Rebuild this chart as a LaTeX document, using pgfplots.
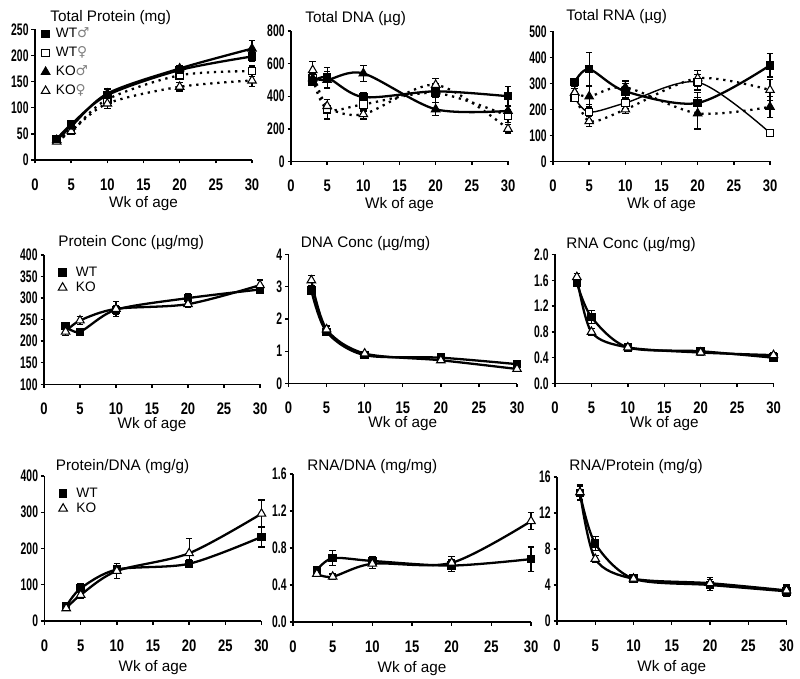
\documentclass[border=0pt]{standalone}
\usepackage{pgfplots}
\pgfplotsset{compat=1.18}
\usepackage{fontspec}
\setmainfont{Liberation Sans}
\newfontfamily\xtf{Liberation Sans}[FakeStretch=0.78]
\newfontfamily\ytf{Liberation Sans}[FakeStretch=0.62]
\newfontfamily\symf{DejaVu Sans}
\pgfplotsset{
  /pgfplots/xlabshift/.initial=-0.95cm,
  /pgfplots/titshift/.initial=0.15cm,
  /pgfplots/titx/.initial=0.26cm,
  panel/.style={
    scale only axis, anchor=south west, clip=false,
    xmin=0, xmax=30, xtick={0,5,...,30},
    axis lines*=left, axis line style={line width=0.8pt, black},
    tick align=outside, major tick length=0.07cm,
    every tick/.style={line width=0.8pt, black},
    /pgf/number format/assume math mode=true,
    xticklabel style={font=\xtf\bfseries\fontsize{9.5}{10}\selectfont, anchor=center, yshift=-0.42cm},
    yticklabel style={font=\ytf\bfseries\fontsize{9.5}{10}\selectfont, anchor=east, inner sep=1.5pt},
    xlabel={Wk of age},
    every axis x label/.style={at={(axis description cs:0.5,0)}, anchor=base,
      yshift=\pgfkeysvalueof{/pgfplots/xlabshift}, font=\fontsize{8.7}{10}\selectfont},
    every axis title shift=0pt,
    every axis title/.style={at={(axis description cs:0,1)}, anchor=base west, inner sep=0pt,
      xshift=\pgfkeysvalueof{/pgfplots/titx},
      yshift=\pgfkeysvalueof{/pgfplots/titshift}, font=\fontsize{8.7}{10}\selectfont},
    legend image code/.code={\draw[mark repeat=1,mark phase=1,#1] plot coordinates {(0cm,0cm)};},
    legend style={draw=none, fill=none, at={(axis description cs:0,1)}, anchor=north west,
      inner sep=0pt, column sep=0.12cm, font=\fontsize{7.8}{8}\selectfont,
      nodes={inner sep=0pt, text height=0.2cm, text depth=0.05cm}},
    legend cell align=left,
  },
  ser/.style={black, line width=1.3pt, smooth, tension=0.5,
    error bars/y dir=both, error bars/y explicit,
    error bars/error bar style={line width=0.7pt, solid},
    error bars/error mark options={rotate=90, mark size=0.065cm, line width=0.7pt, solid}},
  thin/.style={line width=0.8pt},
  dots/.style={dash pattern=on 1.3pt off 2.7pt},
  sqf/.style={mark=square*, mark size=2.1pt, mark options={solid, fill=black, draw=black, line width=0.6pt}},
  sqo/.style={mark=square*, mark size=2.1pt, mark options={solid, fill=white, draw=black, line width=0.6pt}},
  trf/.style={mark=triangle*, mark size=2.8pt, mark options={solid, fill=black, draw=black, line width=0.6pt}},
  tro/.style={mark=triangle*, mark size=2.8pt, mark options={solid, fill=white, draw=black, line width=0.6pt}},
}
\begin{document}
\begin{tikzpicture}
\path[use as bounding box] (0,0) rectangle (16cm,-13.58cm);

% ---------- Row 1 ----------
\begin{axis}[panel, at={(0.70cm,-3.20cm)}, width=4.34cm, height=2.614cm,
  ymin=0, ymax=250, ytick={0,50,...,250}, title={Total Protein (mg)}, titx=0.30cm,
  legend style={xshift=0.12cm, yshift=0.04cm, row sep=0.13cm}]
\addlegendimage{only marks, sqf}\addlegendentry{WT{\symf\color{gray}♂}}
\addlegendimage{only marks, sqo}\addlegendentry{WT{\symf\color{gray}♀}}
\addlegendimage{only marks, trf}\addlegendentry{KO{\symf\color{gray}♂}}
\addlegendimage{only marks, tro}\addlegendentry{KO{\symf\color{gray}♀}}
\addplot[ser, dots, sqo] table[y error=e] {
x y e
3 40 3
5 55 4
10 116 8
20 162 8
30 170 10
};
\addplot[ser, dots, tro] table[y error=e] {
x y e
3 35 3
5 55 4
10 108 10
20 140 8
30 152 12
};
\addplot[ser, sqf] table[y error=e] {
x y e
3 40 3
5 68 4
10 124 6
20 172 5
30 198 10
};
\addplot[ser, trf] table[y error=e] {
x y e
3 38 4
5 64 4
10 127 9
20 175 6
30 213 15
};
\end{axis}

\begin{axis}[panel, at={(5.82cm,-3.23cm)}, width=4.34cm, height=2.61cm,
  ymin=0, ymax=800, ytick={0,200,...,800}, title={Total DNA (µg)}, titshift=0.16cm, titx=0.28cm]
\addplot[ser, dots, sqo] table[y error=e] {
x y e
3 510 30
5 320 60
10 350 40
20 420 60
30 280 40
};
\addplot[ser, dots, tro] table[y error=e] {
x y e
3 560 55
5 340 40
10 290 30
20 470 40
30 200 25
};
\addplot[ser, sqf] table[y error=e] {
x y e
3 490 20
5 515 60
10 395 25
20 430 40
30 400 60
};
\addplot[ser, trf] table[y error=e] {
x y e
3 510 30
5 500 50
10 540 50
20 320 40
30 310 30
};
\end{axis}

\begin{axis}[panel, at={(11.06cm,-3.23cm)}, width=4.34cm, height=2.60cm,
  ymin=0, ymax=500, ytick={0,100,...,500}, title={Total RNA (µg)}, titshift=0.21cm]
\addplot[ser, dots, trf] table[y error=e] {
x y e
3 265 15
5 250 40
10 285 25
20 185 60
30 210 40
};
\addplot[ser, dots, tro] table[y error=e] {
x y e
3 265 15
5 155 20
10 200 15
20 320 30
30 275 40
};
\addplot[ser, thin, sqo] table[y error=e] {
x y e
3 245 15
5 190 30
10 225 20
20 305 30
30 110 10
};
\addplot[ser, sqf] table[y error=e] {
x y e
3 305 15
5 355 65
10 270 30
20 225 40
30 370 45
};
\end{axis}

% ---------- Row 2 ----------
\begin{axis}[panel, at={(0.88cm,-7.686cm)}, width=4.32cm, height=2.586cm,
  ymin=100, ymax=400, ytick={100,150,...,400}, title={Protein Conc (µg/mg)},
  xlabshift=-0.88cm, titshift=0.18cm, titx=0.28cm,
  legend style={xshift=0.28cm, yshift=-0.22cm, row sep=0.05cm, column sep=0.18cm}]
\addlegendimage{only marks, sqf}\addlegendentry{WT}
\addlegendimage{only marks, tro}\addlegendentry{KO}
\addplot[ser, sqf] table[y error=e] {
x y e
3 235 8
5 222 5
10 273 10
20 300 10
30 320 10
};
\addplot[ser, tro] table[y error=e] {
x y e
3 222 8
5 248 10
10 275 18
20 286 8
30 330 12
};
\end{axis}

\begin{axis}[panel, at={(5.77cm,-7.67cm)}, width=4.57cm, height=2.58cm,
  ymin=0, ymax=4, ytick={0,1,2,3,4}, title={DNA Conc (µg/mg)},
  xlabshift=-0.88cm, titshift=0.14cm, titx=0.24cm]
\addplot[ser, sqf] table[y error=e] {
x y e
3 2.88 0.08
5 1.6 0.1
10 0.88 0.05
20 0.8 0.06
30 0.6 0.05
};
\addplot[ser, tro] table[y error=e] {
x y e
3 3.2 0.15
5 1.68 0.1
10 0.93 0.06
20 0.72 0.06
30 0.45 0.05
};
\end{axis}

\begin{axis}[panel, at={(11.10cm,-7.67cm)}, width=4.37cm, height=2.58cm,
  ymin=0, ymax=2, ytick={0,0.4,0.8,1.2,1.6,2.0}, title={RNA Conc (µg/mg)},
  yticklabel style={/pgf/number format/.cd, fixed, fixed zerofill, precision=1},
  xlabshift=-0.88cm, titshift=0.12cm, titx=0.22cm]
\addplot[ser, sqf] table[y error=e] {
x y e
3 1.56 0.05
5 1.03 0.1
10 0.56 0.04
20 0.5 0.05
30 0.4 0.05
};
\addplot[ser, tro] table[y error=e] {
x y e
3 1.65 0.05
5 0.8 0.05
10 0.56 0.03
20 0.48 0.05
30 0.44 0.04
};
\end{axis}

% ---------- Row 3 ----------
\begin{axis}[panel, at={(0.89cm,-12.42cm)}, width=4.34cm, height=2.90cm,
  ymin=0, ymax=400, ytick={0,100,...,400}, title={Protein/DNA (mg/g)},
  titshift=0.12cm, titx=0.22cm, xlabshift=-1.0cm,
  legend style={xshift=0.28cm, yshift=-0.22cm, row sep=0.05cm, column sep=0.18cm}]
\addlegendimage{only marks, sqf}\addlegendentry{WT}
\addlegendimage{only marks, tro}\addlegendentry{KO}
\addplot[ser, sqf] table[y error=e] {
x y e
3 40 5
5 90 12
10 142 12
20 158 10
30 232 28
};
\addplot[ser, tro] table[y error=e] {
x y e
3 35 5
5 72 10
10 138 20
20 187 40
30 296 38
};
\end{axis}

\begin{axis}[panel, at={(5.86cm,-12.44cm)}, width=4.76cm, height=2.96cm,
  ymin=0, ymax=1.6, ytick={0,0.4,0.8,1.2,1.6}, title={RNA/DNA (mg/mg)},
  yticklabel style={/pgf/number format/.cd, fixed, fixed zerofill, precision=1},
  titshift=0.07cm, titx=0.28cm, xlabshift=-1.0cm]
\addplot[ser, sqf] table[y error=e] {
x y e
3 0.56 0.03
5 0.69 0.08
10 0.66 0.05
20 0.61 0.06
30 0.68 0.13
};
\addplot[ser, tro] table[y error=e] {
x y e
3 0.52 0.03
5 0.49 0.03
10 0.63 0.05
20 0.64 0.07
30 1.09 0.09
};
\end{axis}

\begin{axis}[panel, at={(11.14cm,-12.42cm)}, width=4.59cm, height=2.88cm,
  ymin=0, ymax=16, ytick={0,4,8,12,16}, title={RNA/Protein (mg/g)},
  titshift=0.14cm, titx=0.24cm, xlabshift=-1.0cm]
\addplot[ser, sqf] table[y error=e] {
x y e
3 14.2 0.8
5 8.6 0.8
10 4.7 0.3
20 4.0 0.6
30 3.3 0.6
};
\addplot[ser, tro] table[y error=e] {
x y e
3 14.3 0.8
5 6.9 0.4
10 4.7 0.3
20 4.2 0.6
30 3.4 0.6
};
\end{axis}
\end{tikzpicture}
\end{document}
